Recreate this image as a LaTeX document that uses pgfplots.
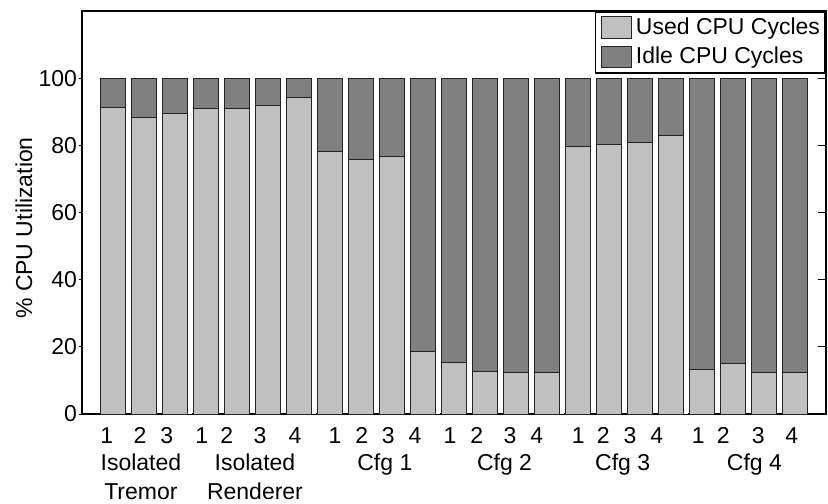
\documentclass[border=0pt]{standalone}
\usepackage{pgfplots}
\pgfplotsset{compat=1.18}
\usepackage{pgfplotstable}
\usepackage{fontspec}
\setmainfont{Liberation Sans}
\newcommand{\fsz}{\fontsize{11.5pt}{14pt}\selectfont}
\definecolor{usedgray}{RGB}{192,192,192}
\definecolor{idlegray}{RGB}{128,128,128}
\definecolor{edgegray}{RGB}{35,35,35}

% CPU utilisation per run: used share and idle share (percent)
\pgfplotstableread{
x  used  idle
1  91.3  8.7
2  88.4  11.6
3  89.4  10.6
4  90.9  9.1
5  91.1  8.9
6  91.8  8.2
7  94.1  5.9
8  78.2  21.8
9  75.9  24.1
10 76.7  23.3
11 18.6  81.4
12 15.2  84.8
13 12.8  87.2
14 12.5  87.5
15 12.5  87.5
16 79.8  20.2
17 80.1  19.9
18 80.9  19.1
19 82.8  17.2
20 13.2  86.8
21 14.9  85.1
22 12.5  87.5
23 12.5  87.5
}\cpudata

\begin{document}
\begin{tikzpicture}[font=\fsz]
\useasboundingbox (-41pt,-44.5pt) rectangle (373pt,207pt);
\begin{axis}[
  at={(0,0)}, anchor=south west,
  scale only axis, width=372pt, height=201.5pt,
  xmin=0, xmax=24, ymin=0, ymax=120,
  clip=false,
  ybar stacked, bar width=0.8,
  axis line style={line width=0.8pt},
  ytick={0,20,...,100}, ytick pos=left,
  tick align=outside,
  major tick length=1.75pt,
  ytick style={line width=0.5pt, black},
  xtick={0.797,1.871,2.732,3.861,4.668,5.742,6.871,8.161,9.023,9.881,10.742,11.871,12.732,13.806,14.668,16.010,16.816,17.677,18.539,19.881,20.687,21.816,22.894},
  xticklabels={1,2,3,1,2,3,4,1,2,3,4,1,2,3,4,1,2,3,4,1,2,3,4},
  xtick style={draw=none},
  xticklabel style={anchor=base, inner sep=0pt, yshift=-12.9pt, font=\fsz},
  yticklabel style={anchor=east, inner sep=0pt, xshift=-0.6pt, font=\fsz},
  /pgf/number format/assume math mode=true,
  ylabel={\% CPU Utilization},
  every axis y label/.style={at={(axis description cs:-0.078,0.4615)}, rotate=90, anchor=center, font=\fsz},
  swatch/.style={legend image code/.code={\draw[##1] (0pt,-5.4pt) rectangle (15pt,5.4pt);}},
  legend style={at={(1,1)}, anchor=north east, draw=black, line width=0.8pt,
    inner xsep=2.6pt, inner ysep=0.5pt, font=\fsz,
    cells={anchor=west}, nodes={inner sep=0pt, minimum height=14.75pt},
    /tikz/every odd column/.append style={column sep=2.2pt}},
]
\addplot[fill=usedgray, draw=edgegray, line width=0.5pt, swatch] table[x=x, y=used]{\cpudata};
\addplot[fill=idlegray, draw=edgegray, line width=0.5pt, swatch] table[x=x, y=idle]{\cpudata};
\legend{Used CPU Cycles, Idle CPU Cycles}

% dashed dividers between the configuration groups
\pgfplotsinvokeforeach{3.47,7.48,11.49,15.47,19.47}{
  \draw[white, line width=2pt] (axis cs:#1,0) -- (axis cs:#1,100);
  \draw[black, line width=1.1pt, dash pattern=on 2.5pt off 1.6pt] (axis cs:#1,0) -- (axis cs:#1,100);
}

% inward ticks on the right-hand axis
\pgfplotsinvokeforeach{0,20,40,60,80,100}{
  \draw[line width=0.5pt] (axis cs:24,#1) -- ++(-3.85pt,0);
}

% group names under the run numbers
\node[anchor=base] at (axis cs:1.90,0) [yshift=-28.0pt] {Isolated};
\node[anchor=base] at (axis cs:1.90,0) [yshift=-42.6pt] {Tremor};
\node[anchor=base] at (axis cs:5.58,0) [yshift=-28.0pt] {Isolated};
\node[anchor=base] at (axis cs:5.58,0) [yshift=-42.6pt] {Renderer};
\node[anchor=base] at (axis cs:9.77,0) [yshift=-28.0pt] {Cfg 1};
\node[anchor=base] at (axis cs:13.63,0) [yshift=-28.0pt] {Cfg 2};
\node[anchor=base] at (axis cs:17.44,0) [yshift=-28.0pt] {Cfg 3};
\node[anchor=base] at (axis cs:21.69,0) [yshift=-28.0pt] {Cfg 4};
\end{axis}
\end{tikzpicture}
\end{document}
